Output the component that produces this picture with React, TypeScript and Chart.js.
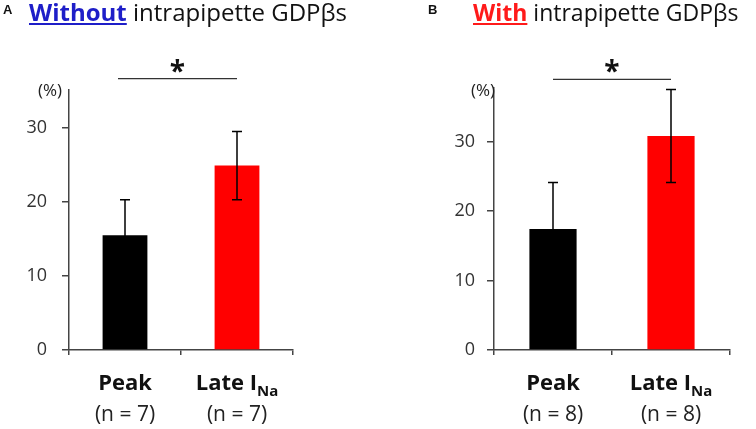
import React, { useEffect, useRef } from "react";
import { Chart, registerables } from "chart.js";

Chart.register(...registerables);

// ---------- data ----------
const categories = ["Peak", "Late I_Na"];
const countLabelsA = ["(n = 7)", "(n = 7)"];
const countLabelsB = ["(n = 8)", "(n = 8)"];
const meanA = [15.5, 24.9];
const errA = [4.8, 4.6];
const meanB = [17.4, 30.8];
const errB = [6.7, 6.7];
const yMaxA = 35.1;
const yMaxB = 37.7;
const yStep = 10;
const barColors = ["#000000", "#ff0000"];
const yUnit = "(%)";
const significance = "*";

const FONT = "'Open Sans', sans-serif";
const AXIS = "#444444";

type Panel = {
  id: string;
  left: number;
  width: number;
  areaLeft: number;
  areaRight: number;
  areaTop: number;
  areaBottom: number;
  yMax: number;
  means: number[];
  errs: number[];
  counts: string[];
  tickPad: number;
  unitRightShift: number;
  unitBaseShift: number;
  sigLineShift: number;
  starBaseShift: number;
  sigLeftShift: number;
};

const panels: Panel[] = [
  {
    id: "A",
    left: 0,
    width: 378,
    areaLeft: 69,
    areaRight: 293,
    areaTop: 90,
    areaBottom: 350,
    yMax: yMaxA,
    means: meanA,
    errs: errA,
    counts: countLabelsA,
    tickPad: 15,
    unitRightShift: -7,
    unitBaseShift: 6,
    sigLineShift: -11.3,
    starBaseShift: -9,
    sigLeftShift: -7,
  },
  {
    id: "B",
    left: 378,
    width: 378,
    areaLeft: 116,
    areaRight: 352,
    areaTop: 88,
    areaBottom: 350,
    yMax: yMaxB,
    means: meanB,
    errs: errB,
    counts: countLabelsB,
    tickPad: 12,
    unitRightShift: 1,
    unitBaseShift: 8,
    sigLineShift: -8.7,
    starBaseShift: -7,
    sigLeftShift: 0,
  },
];

function drawCategory(ctx: CanvasRenderingContext2D, text: string, cx: number, y: number) {
  const [main, sub] = text.split("_");
  ctx.font = `bold 22px ${FONT}`;
  const wMain = ctx.measureText(main).width;
  let wSub = 0;
  if (sub) {
    ctx.font = `bold 15px ${FONT}`;
    wSub = ctx.measureText(sub).width;
  }
  const start = cx - (wMain + wSub) / 2;
  ctx.textAlign = "left";
  ctx.textBaseline = "alphabetic";
  ctx.fillStyle = "#111111";
  ctx.font = `bold 22px ${FONT}`;
  ctx.fillText(main, start, y);
  if (sub) {
    ctx.font = `bold 15px ${FONT}`;
    ctx.fillText(sub, start + wMain, y + 6);
  }
}

function makeOverlay(p: Panel) {
  return {
    id: "overlay" + p.id,
    afterDatasetsDraw(chart: any) {
      const { ctx, chartArea } = chart;
      const x = chart.scales.x;
      const y = chart.scales.y;
      ctx.save();
      // error bars
      ctx.strokeStyle = "#000000";
      ctx.lineWidth = 1.5;
      p.means.forEach((m, i) => {
        const cx = x.getPixelForValue(i);
        const t = y.getPixelForValue(m + p.errs[i]);
        const b = y.getPixelForValue(m - p.errs[i]);
        ctx.beginPath();
        ctx.moveTo(cx, t);
        ctx.lineTo(cx, b);
        ctx.moveTo(cx - 5, t);
        ctx.lineTo(cx + 5, t);
        ctx.moveTo(cx - 5, b);
        ctx.lineTo(cx + 5, b);
        ctx.stroke();
      });
      // significance bracket
      const x0 = x.getPixelForValue(0) + p.sigLeftShift;
      const x1 = x.getPixelForValue(1);
      const sy = chartArea.top + p.sigLineShift;
      ctx.strokeStyle = "#333333";
      ctx.lineWidth = 1.2;
      ctx.beginPath();
      ctx.moveTo(x0, sy);
      ctx.lineTo(x1, sy);
      ctx.stroke();
      ctx.fillStyle = "#111111";
      ctx.font = `bold 28px ${FONT}`;
      ctx.textAlign = "center";
      ctx.textBaseline = "alphabetic";
      ctx.fillText(significance, (x0 + x1) / 2, chartArea.top + p.starBaseShift);
      // unit
      ctx.font = `17px ${FONT}`;
      ctx.textAlign = "right";
      ctx.fillStyle = "#222222";
      ctx.fillText(yUnit, chartArea.left + p.unitRightShift, chartArea.top + p.unitBaseShift);
      // category labels
      categories.forEach((c, i) => {
        const cx = x.getPixelForValue(i);
        drawCategory(ctx, c, cx, chartArea.bottom + 40);
        ctx.font = `21px ${FONT}`;
        ctx.textAlign = "center";
        ctx.fillStyle = "#222222";
        ctx.fillText(p.counts[i], cx, chartArea.bottom + 71);
      });
      ctx.restore();
    },
  };
}

function PanelChart({ p }: { p: Panel }) {
  const ref = useRef<HTMLCanvasElement>(null);
  useEffect(() => {
    if (!ref.current) return;
    const chart = new Chart(ref.current, {
      type: "bar",
      data: {
        labels: categories.map((c) => c.replace("_", "")),
        datasets: [
          {
            data: p.means,
            backgroundColor: barColors,
            borderWidth: 0,
            barPercentage: 0.4,
            categoryPercentage: 1,
          },
        ],
      },
      options: {
        animation: false,
        responsive: false,
        events: [],
        layout: {
          padding: {
            left: 0,
            top: p.areaTop,
            right: p.width - p.areaRight,
            bottom: 0,
          },
        },
        plugins: {
          legend: { display: false },
          title: { display: false },
          tooltip: { enabled: false },
        },
        scales: {
          x: {
            type: "category",
            offset: true,
            grid: {
              display: true,
              drawOnChartArea: false,
              drawTicks: true,
              tickLength: 5,
              color: AXIS,
              lineWidth: 1.5,
              offset: true,
            },
            border: { display: true, color: AXIS, width: 1.5 },
            ticks: { display: false },
            afterFit: (s: any) => {
              s.height = 429 - p.areaBottom;
            },
          },
          y: {
            type: "linear",
            min: 0,
            max: p.yMax,
            grid: {
              display: true,
              drawOnChartArea: false,
              drawTicks: true,
              tickLength: 7,
              color: AXIS,
              lineWidth: 1.5,
            },
            border: { display: true, color: AXIS, width: 1.5 },
            ticks: {
              stepSize: yStep,
              includeBounds: false,
              padding: p.tickPad,
              color: "#333333",
              font: { family: FONT, size: 18 },
            },
            afterFit: (s: any) => {
              s.width = p.areaLeft;
            },
          },
        },
      },
      plugins: [makeOverlay(p)],
    } as any);
    return () => chart.destroy();
  }, [p]);
  return (
    <canvas
      ref={ref}
      width={p.width}
      height={429}
      style={{ position: "absolute", left: p.left, top: 0, width: p.width, height: 429 }}
    />
  );
}

export default function App() {
  return (
    <div
      style={{
        position: "fixed",
        left: 0,
        top: 0,
        width: 756,
        height: 429,
        background: "#ffffff",
        overflow: "hidden",
      }}
    >
      {panels.map((p) => (
        <PanelChart key={p.id} p={p} />
      ))}
      <div
        style={{
          position: "absolute",
          left: 3,
          top: 3,
          font: "bold 13px 'Liberation Sans', Arial, sans-serif",
          lineHeight: "13px",
          color: "#111",
        }}
      >
        A
      </div>
      <div
        style={{
          position: "absolute",
          left: 29,
          top: 0,
          fontFamily: FONT,
          fontSize: 24,
          lineHeight: "24px",
          whiteSpace: "nowrap",
          color: "#111",
        }}
      >
        <span style={{ fontWeight: "bold", color: "#1e1ec8", textDecoration: "underline" }}>Without</span>{" "}
        intrapipette GDPβs
      </div>
      <div
        style={{
          position: "absolute",
          left: 428,
          top: 3,
          font: "bold 13px 'Liberation Sans', Arial, sans-serif",
          lineHeight: "13px",
          color: "#111",
        }}
      >
        B
      </div>
      <div
        style={{
          position: "absolute",
          left: 473,
          top: 0,
          fontFamily: FONT,
          fontSize: 23,
          lineHeight: "24px",
          whiteSpace: "nowrap",
          color: "#111",
        }}
      >
        <span style={{ fontWeight: "bold", color: "#ff1a1a", textDecoration: "underline" }}>With</span>{" "}
        intrapipette GDPβs
      </div>
    </div>
  );
}
